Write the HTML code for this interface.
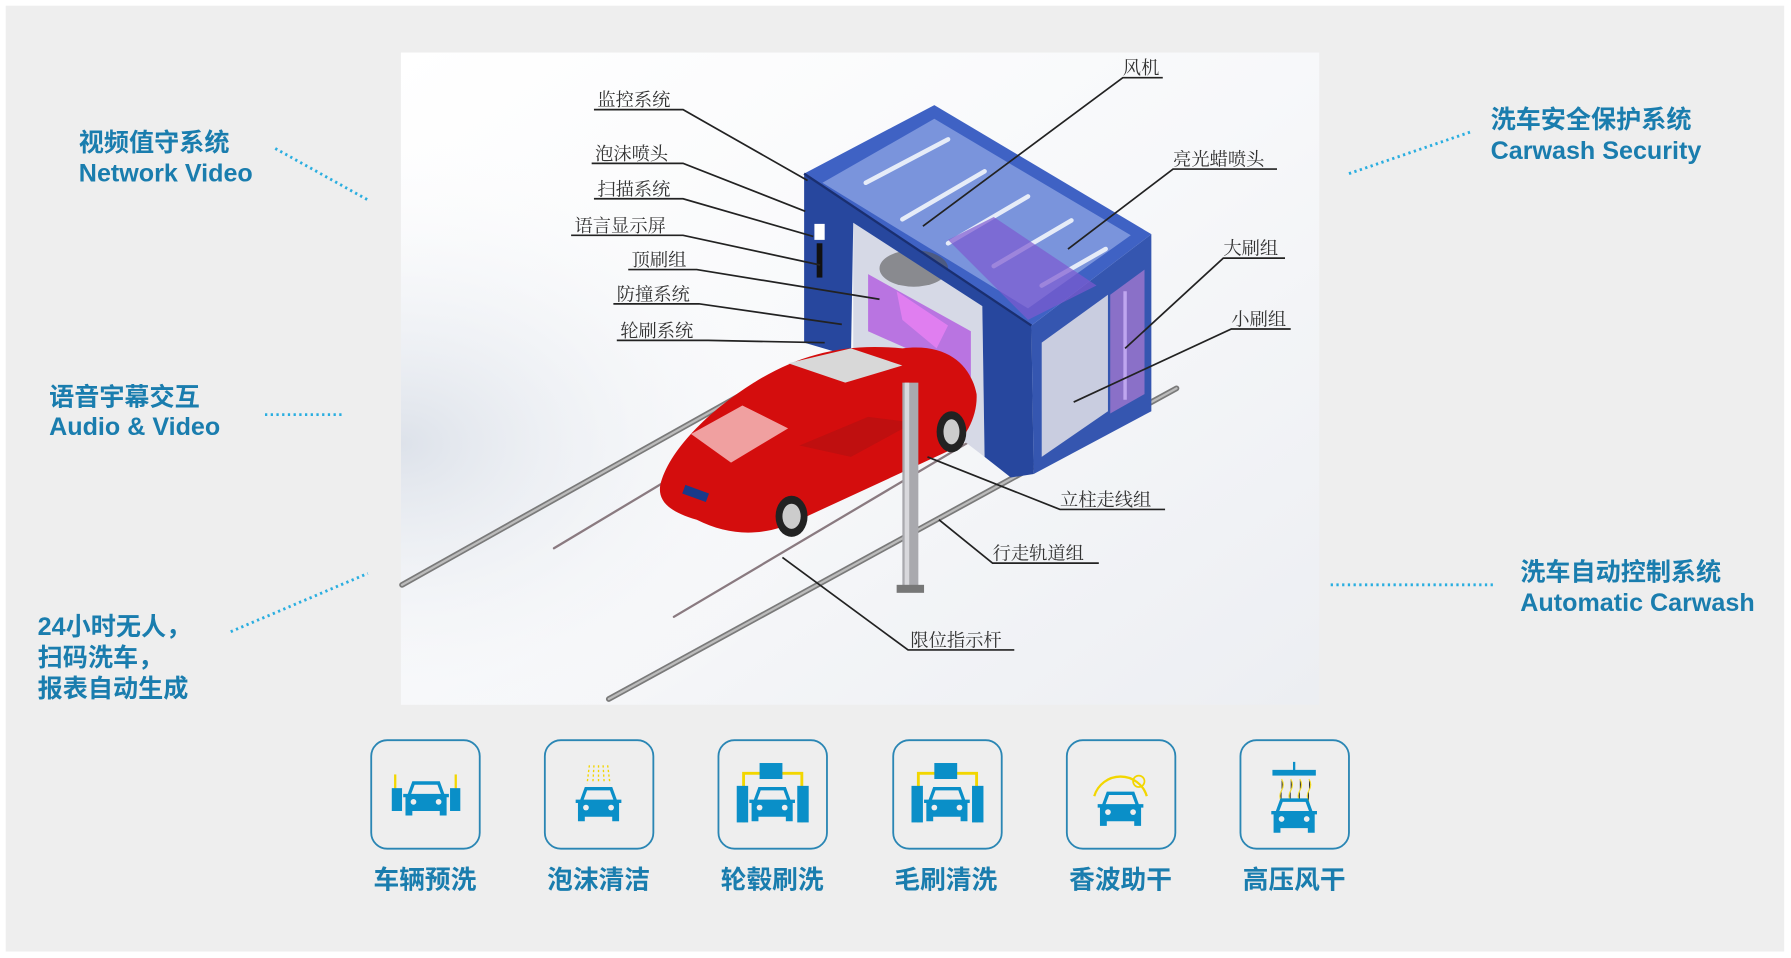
<!DOCTYPE html>
<html><head><meta charset="utf-8"><style>
html,body{margin:0;padding:0;background:#fff;width:1791px;height:958px;overflow:hidden}
svg{display:block}
.t{font-family:"Liberation Sans","Noto Sans CJK SC",sans-serif;font-weight:bold;fill:#1a7dae;font-size:22px}
.l{font-family:"Liberation Serif","Noto Serif CJK SC",serif;fill:#333;font-size:16px}
.ic{font-family:"Liberation Sans","Noto Sans CJK SC",sans-serif;font-weight:bold;fill:#1a7dae;font-size:22.5px}
</style></head><body>
<svg width="1791" height="958" viewBox="0 0 1568 838.7" preserveAspectRatio="none">
<defs>
<linearGradient id="bg" x1="0" y1="0" x2="1" y2="1">
<stop offset="0" stop-color="#ffffff"/><stop offset="0.5" stop-color="#f7f8fa"/><stop offset="1" stop-color="#eceef2"/></linearGradient>
<radialGradient id="bg2" cx="0" cy="0.6" r="0.5">
<stop offset="0" stop-color="#dde2ea"/><stop offset="1" stop-color="#ffffff" stop-opacity="0"/></radialGradient>
<g id="car">
<path d="M-12,-14 L12,-14 L16,-3 L20,-3 L20,0 L18,0 L18,16 L12,16 L12,12 L-12,12 L-12,16 L-18,16 L-18,0 L-20,0 L-20,-3 L-16,-3 Z" fill="#0a8fc8"/>
<path d="M-10,-11 L10,-11 L13,-3 L-13,-3 Z" fill="#eeeeee"/>
<circle cx="-11" cy="4" r="2.5" fill="#eeeeee"/><circle cx="11" cy="4" r="2.5" fill="#eeeeee"/>
</g>
</defs>
<rect width="1568" height="838.7" fill="#fff"/>
<rect x="5" y="5" width="1557" height="828" fill="#eeeeee"/>
<rect x="351" y="46" width="804" height="571" fill="url(#bg)"/>
<rect x="351" y="46" width="804" height="571" fill="url(#bg2)"/>

<!-- rails -->
<g stroke-linecap="round">
<line x1="352" y1="512" x2="650" y2="345" stroke="#7a7a7a" stroke-width="5"/>
<line x1="352" y1="512" x2="650" y2="345" stroke="#bbb" stroke-width="2"/>
<line x1="533" y1="612" x2="1030" y2="340" stroke="#7a7a7a" stroke-width="5"/>
<line x1="533" y1="612" x2="1030" y2="340" stroke="#bbb" stroke-width="2"/>
<line x1="485" y1="480" x2="585" y2="420" stroke="#8a7a80" stroke-width="2"/>
<line x1="590" y1="540" x2="860" y2="380" stroke="#8a7a80" stroke-width="2"/>
</g>

<!-- machine: right side face -->
<polygon points="903,285 1008,205 1008,360 905,415" fill="#3556b0"/>
<polygon points="912,300 970,258 970,360 912,400" fill="#c9cde0"/>
<polygon points="972,258 1002,236 1002,345 972,362" fill="#8a70c8"/>
<line x1="985" y1="255" x2="985" y2="350" stroke="#bfa6ef" stroke-width="3"/>
<!-- roof -->
<polygon points="704,152 818,92 1008,205 903,285" fill="#3f62c4"/>
<polygon points="720,160 818,104 990,206 900,270" fill="#7a94dc"/>
<g stroke="#e6ecf8" stroke-width="4" stroke-linecap="round">
<line x1="758" y1="160" x2="830" y2="122"/>
<line x1="790" y1="192" x2="862" y2="150"/>
<line x1="830" y1="213" x2="900" y2="172"/>
<line x1="870" y1="233" x2="938" y2="193"/>
<line x1="912" y1="250" x2="968" y2="218"/>
</g>
<polygon points="830,210 870,190 960,250 900,280" fill="#7d5ad0" opacity="0.7"/>
<!-- opening interior -->
<polygon points="747,195 860,268 862,400 747,312" fill="#d6d9e6"/>
<polygon points="760,240 850,290 850,330 760,290" fill="#b25ae0" opacity="0.8"/>
<polygon points="785,255 830,285 820,305 790,280" fill="#e07ef0"/>
<ellipse cx="800" cy="235" rx="30" ry="16" fill="#555" opacity="0.6"/>
<!-- front gate -->
<polygon points="704,152 903,285 905,415 885,418 862,400 860,268 747,195 745,312 704,300" fill="#27479e"/>
<line x1="704" y1="152" x2="903" y2="285" stroke="#1a2f70" stroke-width="2"/>
<rect x="713" y="196" width="9" height="14" fill="#fff"/>
<rect x="715" y="213" width="5" height="30" fill="#111"/>

<!-- car -->
<path d="M578,425 C585,395 620,360 660,335 C700,310 740,300 790,305 C830,300 850,320 855,345 C856,365 845,385 830,395 L700,455 C670,470 640,470 610,455 C585,448 576,438 578,425 Z" fill="#d40d0d"/>
<path d="M605,380 L650,355 L690,375 L640,405 Z" fill="#f0a0a0"/>
<path d="M690,318 L745,305 L790,320 L740,335 Z" fill="#d8d8d8"/>
<path d="M700,390 L760,365 L800,370 L745,400 Z" fill="#b01010" opacity="0.6"/>
<ellipse cx="693" cy="452" rx="14" ry="18" fill="#222"/><ellipse cx="693" cy="452" rx="8" ry="11" fill="#ccc"/>
<ellipse cx="833" cy="378" rx="13" ry="18" fill="#222"/><ellipse cx="833" cy="378" rx="7" ry="11" fill="#ccc"/>
<rect x="598" y="428" width="22" height="8" fill="#1a3a8a" transform="rotate(20 609 432)"/>
<!-- pole -->
<rect x="790" y="335" width="14" height="182" fill="#a9a9ae"/>
<rect x="792" y="335" width="4" height="182" fill="#d8d8dc"/>
<rect x="785" y="512" width="24" height="7" fill="#777"/>

<!-- leader lines -->
<g stroke="#222" stroke-width="1.5" fill="none">
<polyline points="520,96 598,96 707,158"/>
<polyline points="518,143 598,143 705,185"/>
<polyline points="520,174 598,174 712,207"/>
<polyline points="500,206 598,206 718,232"/>
<polyline points="550,236 610,236 770,262"/>
<polyline points="537,266 612,266 737,284"/>
<polyline points="540,298 620,298 722,300"/>
<polyline points="1018,68 983,68 808,198"/>
<polyline points="1118,148 1027,148 935,218"/>
<polyline points="1125,226 1071,226 985,305"/>
<polyline points="1130,288 1078,288 940,352"/>
<polyline points="1020,446 928,446 812,400"/>
<polyline points="962,493 869,493 822,455"/>
<polyline points="888,569 795,569 685,488"/>
</g>
<g class="l">
<text x="523" y="93">监控系统</text>
<text x="521" y="140">泡沫喷头</text>
<text x="523" y="171">扫描系统</text>
<text x="503" y="203">语言显示屏</text>
<text x="553" y="233">顶刷组</text>
<text x="540" y="263">防撞系统</text>
<text x="543" y="295">轮刷系统</text>
<text x="983" y="65">风机</text>
<text x="1027" y="145">亮光蜡喷头</text>
<text x="1071" y="223">大刷组</text>
<text x="1078" y="285">小刷组</text>
<text x="928" y="443">立柱走线组</text>
<text x="869" y="490">行走轨道组</text>
<text x="797" y="566">限位指示杆</text>
</g>

<!-- side labels -->
<g class="t">
<text x="69" y="132">视频值守系统</text>
<text x="69" y="159">Network Video</text>
<text x="43" y="355">语音宇幕交互</text>
<text x="43" y="381">Audio &amp; Video</text>
<text x="33" y="556">24小时无人，</text>
<text x="33" y="583">扫码洗车，</text>
<text x="33" y="610">报表自动生成</text>
<text x="1305" y="112">洗车安全保护系统</text>
<text x="1305" y="139">Carwash Security</text>
<text x="1331" y="508">洗车自动控制系统</text>
<text x="1331" y="535">Automatic Carwash</text>
</g>
<g stroke="#2aaee0" stroke-width="2.5" stroke-dasharray="2 3" fill="none">
<line x1="241" y1="130" x2="322" y2="175"/>
<line x1="232" y1="363" x2="300" y2="363"/>
<line x1="202" y1="553" x2="322" y2="502"/>
<line x1="1181" y1="152" x2="1289" y2="115"/>
<line x1="1165" y1="512" x2="1308" y2="512"/>
</g>

<!-- icons -->
<g fill="none" stroke="#2a86b4" stroke-width="1.6">
<rect x="325" y="648" width="95" height="95" rx="14"/>
<rect x="477" y="648" width="95" height="95" rx="14"/>
<rect x="629" y="648" width="95" height="95" rx="14"/>
<rect x="782" y="648" width="95" height="95" rx="14"/>
<rect x="934" y="648" width="95" height="95" rx="14"/>
<rect x="1086" y="648" width="95" height="95" rx="14"/>
</g>
<g>
<rect x="345" y="678" width="2" height="32" fill="#f2d600"/><rect x="398" y="678" width="2" height="32" fill="#f2d600"/>
<rect x="343" y="690" width="9" height="20" fill="#0a8fc8"/><rect x="394" y="690" width="9" height="20" fill="#0a8fc8"/>
<use href="#car" x="373" y="698"/>
</g>
<g stroke="#f2d600" stroke-width="1.2" stroke-dasharray="2 2">
<line x1="516" y1="670" x2="514" y2="686"/><line x1="520" y1="670" x2="519" y2="686"/><line x1="524" y1="670" x2="524" y2="686"/><line x1="528" y1="670" x2="529" y2="686"/><line x1="532" y1="670" x2="534" y2="686"/>
</g>
<use href="#car" x="524" y="703"/>
<g id="brush">
<path d="M651,720 L651,677 L702,677 L702,720" fill="none" stroke="#f2d600" stroke-width="2.5"/>
<rect x="665" y="668" width="20" height="14" fill="#0a8fc8"/>
<rect x="645" y="688" width="10" height="32" fill="#0a8fc8"/><rect x="698" y="688" width="10" height="32" fill="#0a8fc8"/>
<use href="#car" x="676" y="703"/>
</g>
<use href="#brush" x="153" y="0"/>
<path d="M958,697 A24,24 0 0 1 1004,697" fill="none" stroke="#f2d600" stroke-width="2"/>
<circle cx="997" cy="684" r="5" fill="none" stroke="#f2d600" stroke-width="1.5"/>
<use href="#car" x="981" y="707"/>
<rect x="1132" y="667" width="2" height="8" fill="#0a8fc8"/>
<rect x="1114" y="674" width="38" height="5" fill="#0a8fc8"/>
<g stroke="#f2d600" stroke-width="1" opacity="0.8"><path d="M1122,682 q3,5 0,10 q-3,5 0,10 M1130,682 q3,5 0,10 q-3,5 0,10 M1138,682 q3,5 0,10 q-3,5 0,10 M1146,682 q3,5 0,10 q-3,5 0,10"/></g>
<use href="#car" x="1133" y="713"/>
<g class="ic" text-anchor="middle">
<text x="372" y="778">车辆预洗</text>
<text x="524" y="778">泡沫清洁</text>
<text x="676" y="778">轮毂刷洗</text>
<text x="828" y="778">毛刷清洗</text>
<text x="981" y="778">香波助干</text>
<text x="1133" y="778">高压风干</text>
</g>
</svg>
</body></html>
